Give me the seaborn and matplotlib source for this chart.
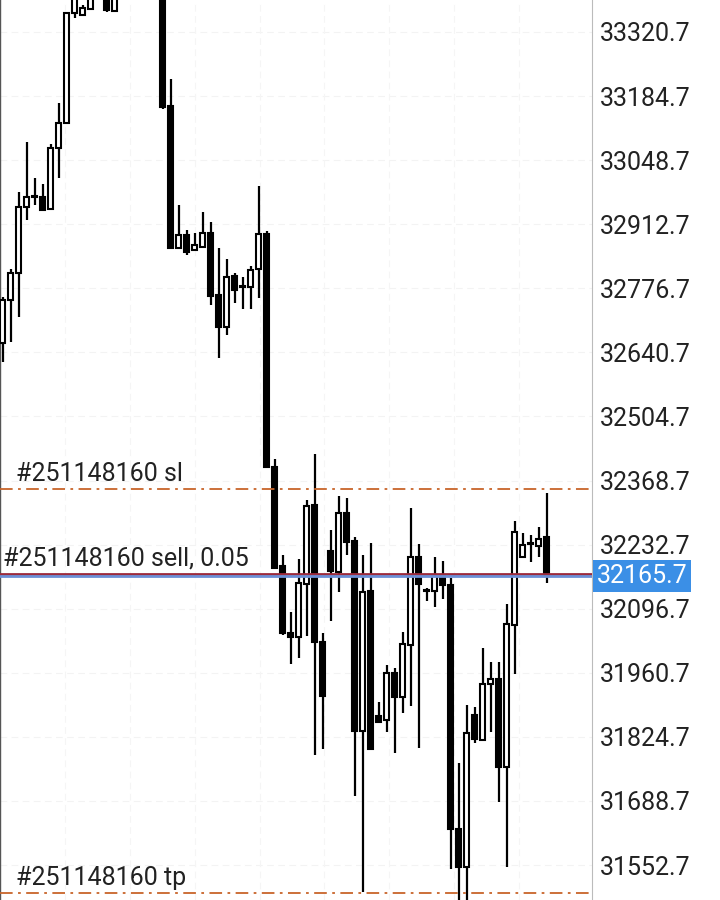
import numpy as np
import pandas as pd
import matplotlib
matplotlib.use("Agg")
import matplotlib.pyplot as plt
import seaborn as sns

# OHLC (candles above the top edge are guesses)
opens = [32660.6, 32751.9, 32809.2, 32949.3, 32970.5, 32970.5, 32945.0, 33074.5, 33127.5, 33361.0,
         33356.8, 33369.5, 33410.0, 33409.8, 33365.3, 33410.0, 33450.0, 33490.0, 33470.0, 33500.0,
         33480.0, 33163.6, 32862.2, 32889.8, 32858.0, 32864.4, 32894.1, 32762.5, 32694.6, 32802.8,
         32779.5, 32779.5, 32817.7, 32892.0, 32397.4, 32187.3, 32045.1, 32036.7, 32149.1, 32316.8,
         32026.0, 32219.2, 32174.6, 32299.8, 32240.4, 31837.1, 32134.2, 31869.0, 31860.5, 31960.2,
         31909.3, 32019.7, 32206.4, 32134.2, 32134.2, 32168.2, 32147.0, 31629.1, 31548.5, 31871.1,
         31818.0, 31936.9, 31947.5, 31760.7, 32062.1, 32206.4, 32234.1, 32229.8, 32248.9]
highs = [32758.2, 32817.7, 32981.1, 33087.2, 33010.8, 32998.1, 33083.0, 33170.0, 33362.0, 33414.1,
         33378.0, 33420.4, 33455.0, 33420.4, 33431.0, 33470.0, 33510.0, 33520.0, 33525.0, 33515.0,
         33495.0, 33220.9, 32953.5, 32900.4, 32894.1, 32938.7, 32917.4, 32862.2, 32838.9, 32809.2,
         32800.7, 32824.0, 32993.8, 32898.3, 32414.4, 32210.7, 32089.7, 32202.2, 32327.4, 32425.0,
         32045.1, 32263.7, 32335.9, 32331.6, 32248.9, 32210.7, 32236.2, 31898.7, 31977.2, 31970.8,
         32047.3, 32310.4, 32234.1, 32140.6, 32206.4, 32197.9, 32161.9, 31769.2, 31892.3, 31888.1,
         32013.3, 31983.5, 31983.5, 32106.7, 32282.8, 32257.4, 32253.1, 32270.1, 32342.3]
lows = [32620.3, 32662.7, 32715.8, 32921.7, 32953.5, 32940.0, 32943.0, 33010.8, 33125.0, 33350.4,
        33354.6, 33367.4, 33400.0, 33363.1, 33365.3, 33400.0, 33440.0, 33455.0, 33460.0, 33460.0,
        33158.0, 32860.0, 32860.0, 32847.4, 32856.0, 32862.0, 32741.3, 32628.8, 32677.6, 32745.5,
        32732.8, 32732.8, 32756.1, 32395.0, 32181.0, 32040.9, 31979.3, 31992.1, 32038.8, 31786.2,
        31798.9, 32070.6, 32132.1, 32210.7, 31699.2, 31495.4, 31797.0, 31855.0, 31835.0, 31790.4,
        31875.3, 31890.2, 31801.0, 32113.0, 32100.3, 32117.3, 31544.2, 31470.0, 31470.0, 31811.7,
        31816.0, 31835.0, 31686.4, 31548.5, 31958.1, 32204.0, 32195.8, 32206.4, 32151.2]
closes = [32751.9, 32809.2, 32949.3, 32970.5, 32972.6, 32942.9, 33074.5, 33127.5, 33361.0, 33405.6,
          33371.6, 33409.8, 33440.0, 33367.4, 33409.8, 33450.0, 33490.0, 33470.0, 33500.0, 33480.0,
          33161.5, 32862.2, 32889.8, 32853.8, 32868.6, 32894.1, 32760.4, 32694.6, 32800.7, 32773.1,
          32781.6, 32815.6, 32892.0, 32397.4, 32183.1, 32045.1, 32036.7, 32151.2, 32314.7, 32026.0,
          31911.4, 32176.7, 32299.8, 32238.3, 31837.1, 32132.1, 31798.9, 31856.3, 31960.2, 31909.3,
          32021.8, 32206.4, 32149.1, 32136.3, 32168.2, 32147.0, 31629.1, 31548.5, 31832.9, 31820.2,
          31936.9, 31947.5, 31760.7, 32064.2, 32259.5, 32231.9, 32236.2, 32244.6, 32165.7]

ticks = [33320.7 - 136 * k for k in range(14)]
order_id = "#251148160"
sl_price, tp_price, entry_price, bid_price = 32350.8, 31493.3, 32170.4, 32165.7

df = pd.DataFrame({"open": opens, "high": highs, "low": lows, "close": closes})
df["i"] = np.arange(len(df))
df["up"] = df.close >= df.open

sns.set_theme(style="white")
plt.rcParams["font.family"] = ["Roboto", "DejaVu Sans"]

fig = plt.figure(figsize=(7.2, 9), dpi=100)
ax = fig.add_axes([0, 0, 592 / 720, 1])

# faint grid
for t in ticks:
    ax.axhline(t, color="#f3f3f3", lw=0.8, ls=(0, (6, 4)), zorder=0)
for gx in np.arange(7.8, 70, 8.1):
    ax.axvline(gx, color="#f5f5f5", lw=0.8, ls=(0, (6, 4)), zorder=0)

# candles
ax.vlines(df.i, df.low, df.high, color="black", lw=1.6, zorder=2)
body = (df.close - df.open).abs().clip(lower=2.5)
bottom = df[["open", "close"]].min(axis=1)
ax.bar(df.i[df.up], body[df.up], bottom=bottom[df.up], width=0.62,
       color="white", edgecolor="black", linewidth=1.5, zorder=3)
ax.bar(df.i[~df.up], body[~df.up], bottom=bottom[~df.up], width=0.62,
       color="black", edgecolor="black", linewidth=1.5, zorder=3)

# order lines
for p in (sl_price, tp_price):
    ax.axhline(p, color="#c8652a", lw=1.3, ls=(0, (7, 3, 1.5, 3)), zorder=4)
ax.axhline(entry_price, color="#9c2a3c", lw=2, zorder=4)
ax.axhline(bid_price, color="#6c8fd6", lw=2, zorder=4)

lab = dict(fontsize=18, color="#222222", va="bottom", zorder=5)
ax.text(1.6, sl_price + 7, f"{order_id} sl", **lab)
ax.text(0.0, entry_price + 7, f"{order_id} sell, 0.05", **lab)
ax.text(1.6, tp_price + 7, f"{order_id} tp", **lab)

ax.set_xlim(-0.34, 73.66)
ax.set_ylim(31478.5, 33388.6)
ax.set_xticks([])
ax.yaxis.tick_right()
ax.set_yticks(ticks)
ax.set_yticklabels([f"{t:.1f}" for t in ticks], fontsize=18, color="#222222")
ax.tick_params(axis="y", length=0, pad=6)
for s in ("top", "bottom"):
    ax.spines[s].set_visible(False)
ax.spines["left"].set_color("#555555")
ax.spines["left"].set_linewidth(1)
ax.spines["right"].set_color("#bbbbbb")
ax.spines["right"].set_linewidth(0.8)

# current price tag
ax.text(1.008, bid_price, f"{bid_price:.1f}", transform=ax.get_yaxis_transform(),
        fontsize=18, color="white", va="center", ha="left", clip_on=False, zorder=6,
        bbox=dict(boxstyle="square,pad=0.15", fc="#3b8fe6", ec="none"))

fig.savefig("out.png", dpi=100)
